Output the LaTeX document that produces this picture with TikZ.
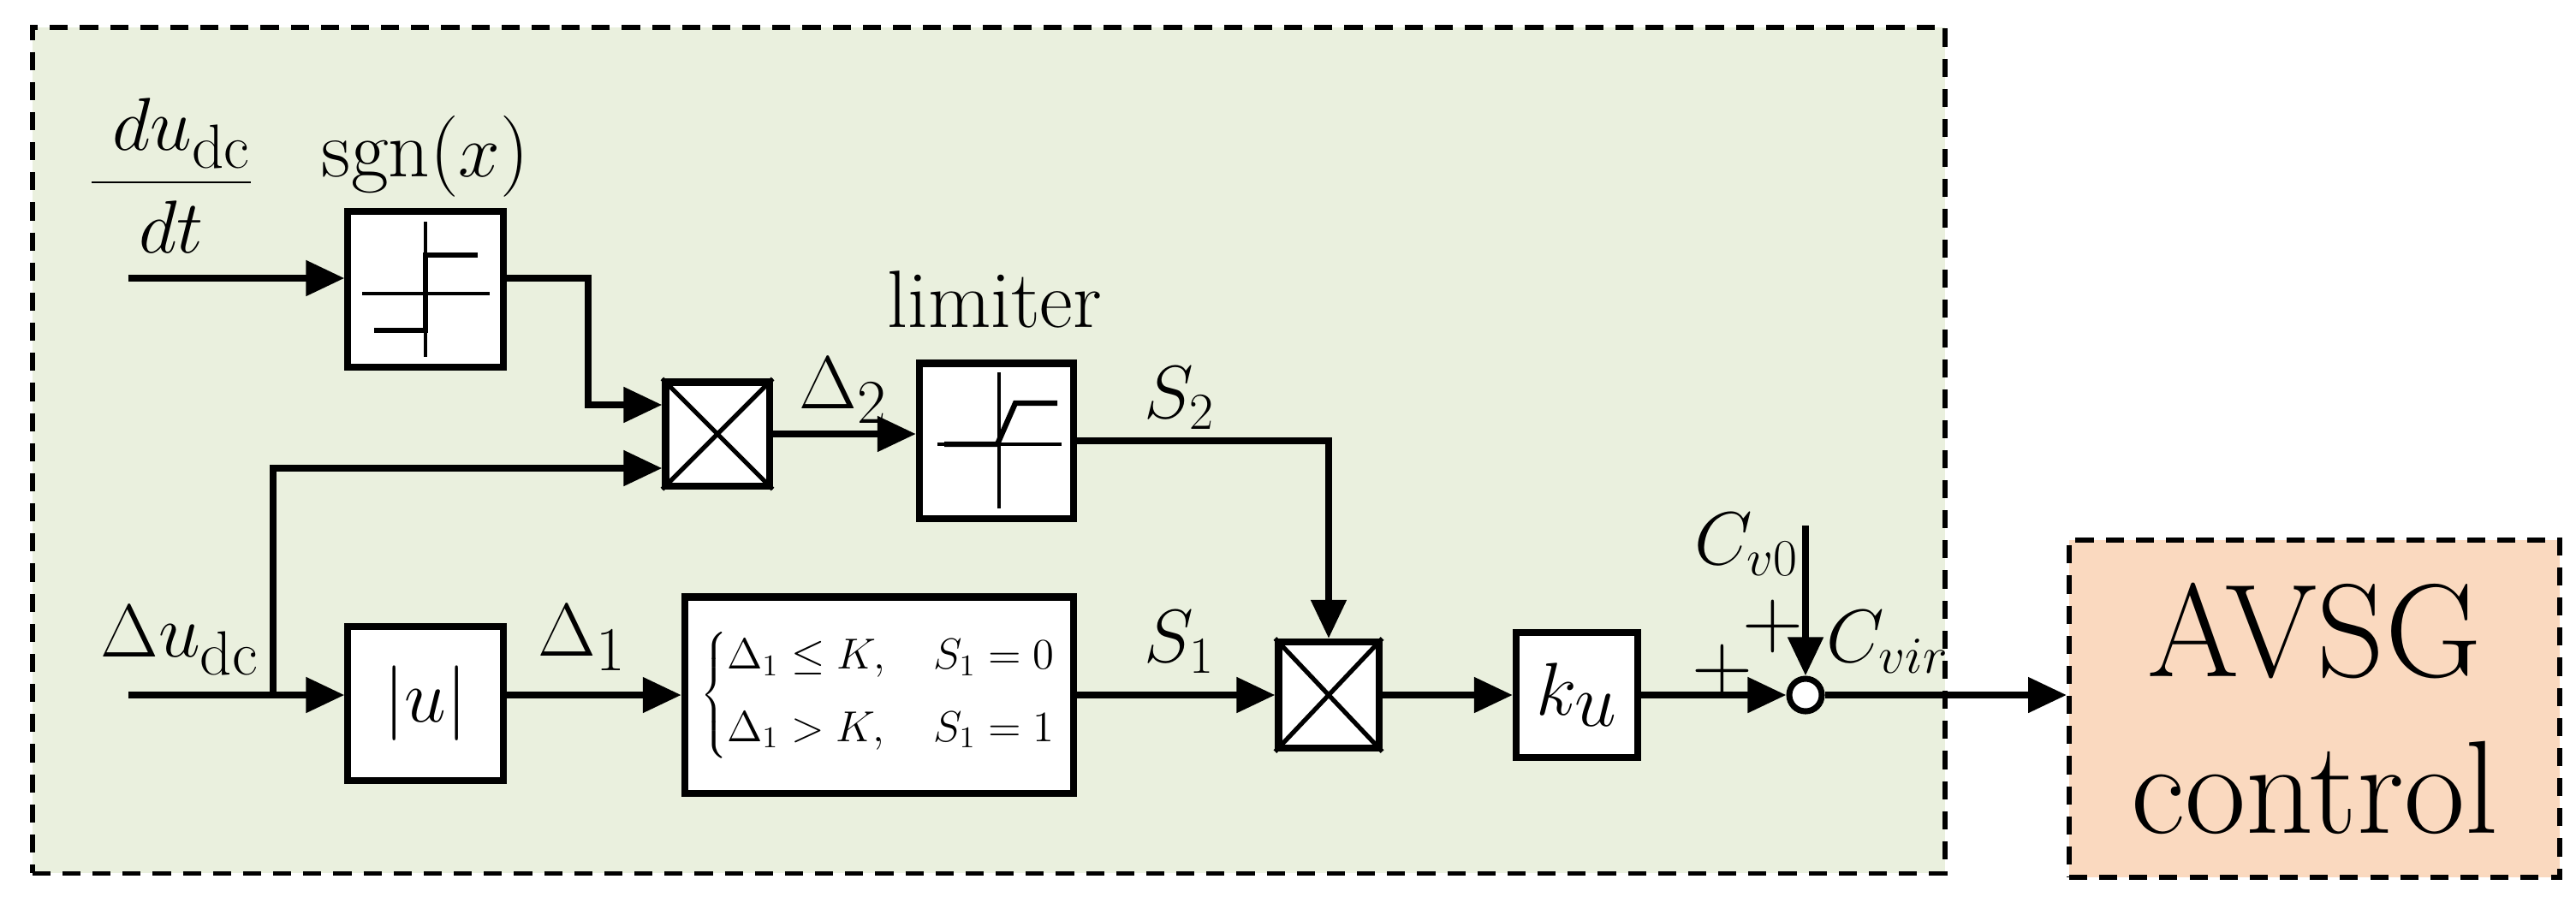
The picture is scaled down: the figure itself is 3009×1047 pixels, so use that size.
\documentclass[tikz,border=0pt]{standalone}
\usetikzlibrary{arrows.meta}
\definecolor{greenbg}{HTML}{EAF0DE}
\definecolor{orangebg}{HTML}{FAD9BF}
\begin{document}
\begin{tikzpicture}[x=0.01cm,y=-0.01cm,
  wire/.style={line width=2.3pt,-{Triangle[length=0.45cm,width=0.4cm]}},
  blk/.style={draw,line width=2.3pt,fill=white,inner sep=0pt},
  thin/.style={line width=0.9pt},
  lbl/.style={font=\fontsize{25}{27}\selectfont,inner sep=0pt},
  big/.style={font=\fontsize{31}{33}\selectfont,inner sep=0pt},
  frame/.style={line width=1.6pt,dash pattern=on 6pt off 4pt}]
\useasboundingbox (0,0) rectangle (3009,1047);
\node[frame,draw,fill=greenbg,minimum width=22.33cm,minimum height=9.88cm,anchor=north west] (grp) at (35,29) {};
\node[frame,draw,fill=orangebg,minimum width=5.73cm,minimum height=3.94cm,anchor=north west,align=center,font=\fontsize{44}{52}\selectfont] (avsg) at (2414,628) {AVSG\\control};
% blocks
\node[blk,minimum width=1.81cm,minimum height=1.82cm] (sgn) at (497,338) {};
\node[blk,minimum width=1.21cm,minimum height=1.21cm] (m1) at (838,507) {};
\node[blk,minimum width=1.80cm,minimum height=1.81cm] (lim) at (1164,515) {};
\node[blk,minimum width=1.81cm,minimum height=1.80cm] (abs) at (497,822) {};
\node[blk,minimum width=4.54cm,minimum height=2.29cm] (cond) at (1027,812) {};
\node[blk,minimum width=1.17cm,minimum height=1.24cm] (m2) at (1552,812) {};
\node[blk,minimum width=1.42cm,minimum height=1.46cm] (ku) at (1842,812) {};
\node[draw,circle,line width=2pt,fill=white,minimum size=0.38cm,inner sep=0pt] (sum) at (2109,812) {};
% contents
\draw[line width=1.5pt] (m1.north west)--(m1.south east) (m1.north east)--(m1.south west);
\draw[line width=1.5pt] (m2.north west)--(m2.south east) (m2.north east)--(m2.south west);
\draw[thin] (423,343)--(572,343) (497,259)--(497,417);
\draw[line width=1.8pt] (437,386)--(497,386)--(497,298)--(558,298);
\draw[thin] (1095,519)--(1240,519) (1167,435)--(1167,594);
\draw[line width=1.8pt] (1103,519)--(1165,519)--(1186,471)--(1235,471);
\node[font=\fontsize{40}{44}\selectfont] at (abs.center) {$|u|$};
\node[font=\fontsize{34}{38}\selectfont] at (ku.center) {$k_u$};
\node[font=\fontsize{14.5}{17}\selectfont,inner sep=0pt] (ctext) at (cond.center) {$\left\{\begin{array}{@{}l@{\hspace{1.1em}}l@{}}\Delta_1 \le K, & S_1 = 0\\[7pt] \Delta_1 > K, & S_1 = 1\end{array}\right.$};
% coordinates
\coordinate (in1) at (150,325);
\coordinate (in2) at (150,812);
\coordinate (br) at (319,812);
\coordinate (cv) at (2109,614);
% wires
\draw[wire] (in1) -- (sgn.west |- in1);
\draw[wire] (sgn.east |- in1) -| (687,473) -- (m1.west |- 0,473);
\draw[wire] (in2) -- (abs.west |- in2);
\draw[wire] (br) |- (m1.west |- 0,547);
\draw[wire] (abs.east |- in2) -- (cond.west |- in2);
\draw[wire] (m1.east) -- (lim.west |- m1.east);
\draw[wire] (lim.east |- 0,515) -| (m2.north);
\draw[wire] (cond.east |- in2) -- (m2.west);
\draw[wire] (m2.east) -- (ku.west);
\draw[wire] (ku.east) -- (sum.west);
\draw[wire] (cv) -- (sum.north);
\draw[wire] (sum.east) -- (avsg.west |- sum.east);
% labels
\node[big] (frac) at (200,205) {$\displaystyle\frac{\;du_{\mathrm{dc}}}{dt}$};
\node[big] (lu) at (210,748) {$\Delta u_{\mathrm{dc}}$};
\node[lbl,font=\fontsize{27}{29}\selectfont] (lsgn) at (497,183) {sgn($x$)};
\node[lbl,font=\fontsize{27}{29}\selectfont] (llim) at (1162,350) {limiter};
\node[big] (ld2) at (985,456) {$\Delta_2$};
\node[big] (ld1) at (680,745) {$\Delta_1$};
\node[lbl] (ls2) at (1378,465) {$S_2$};
\node[lbl] (ls1) at (1378,750) {$S_1$};
\node[lbl] (lcv0) at (2040,636) {$C_{v0}$};
\node[lbl] (lcvir) at (2205,750) {$C_{vir}$};
\node[lbl,font=\fontsize{28}{30}\selectfont] (p1) at (2071,732) {+};
\node[lbl,font=\fontsize{28}{30}\selectfont] (p2) at (2012,784) {+};
\end{tikzpicture}
\end{document}
